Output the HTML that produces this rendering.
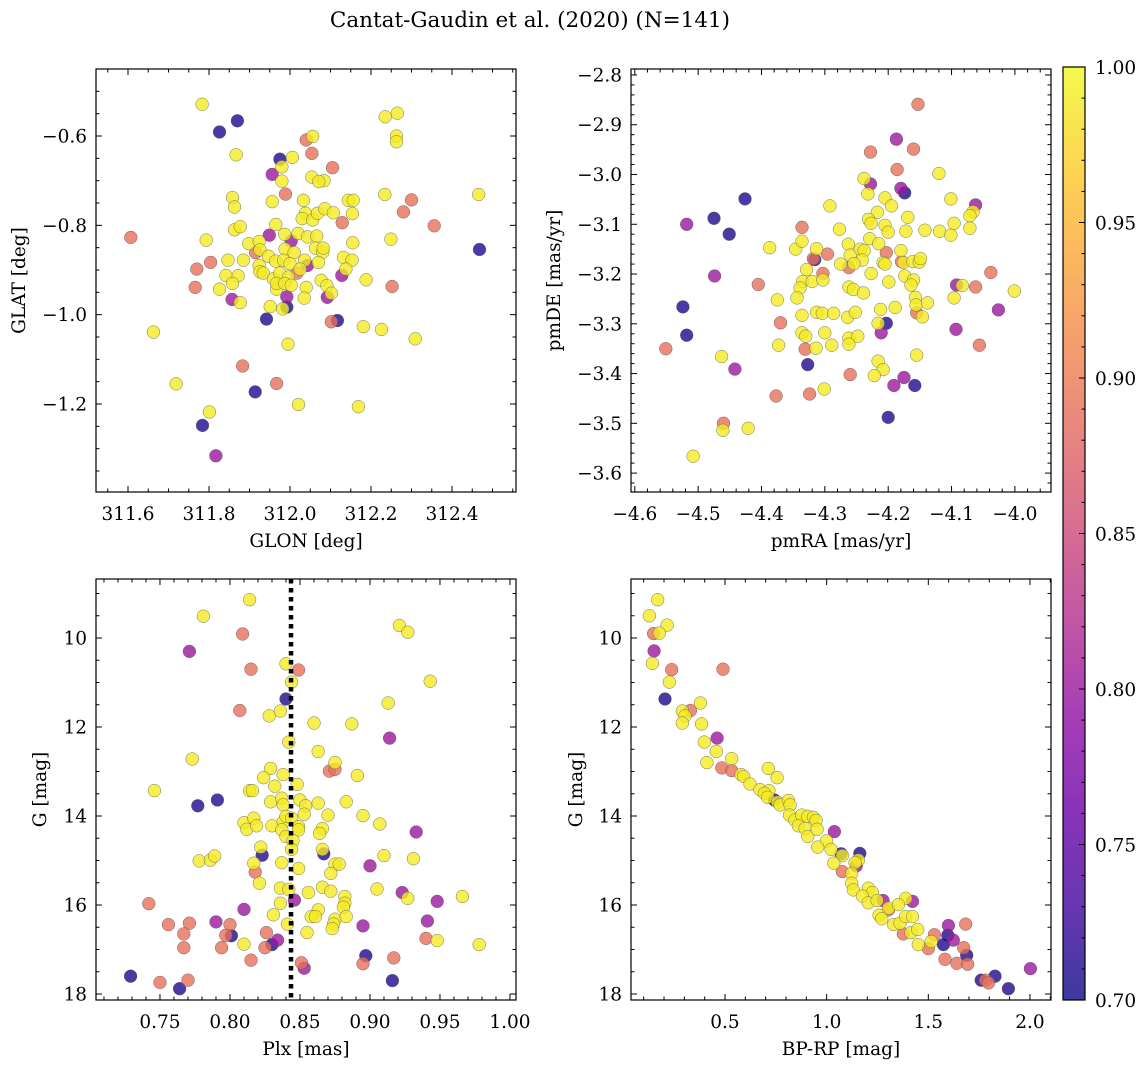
<!DOCTYPE html>
<html><head><meta charset="utf-8"><title>Cantat-Gaudin et al. (2020)</title>
<style>
html,body{margin:0;padding:0;background:#fff;}
svg{display:block;font-family:"DejaVu Serif","Liberation Serif",serif;}
</style></head>
<body>
<svg id="fig" width="1148" height="1067" viewBox="0 0 1148 1067" xmlns="http://www.w3.org/2000/svg">
<rect x="0" y="0" width="1148" height="1067" fill="#fff"/>
<text x="530" y="27" font-size="21.5" text-anchor="middle">Cantat-Gaudin et al. (2020) (N=141)</text>
</svg>
<script>
// ---------- Panel 1: GLON / GLAT ----------
const p1Lon=[311.783,311.870,311.826,312.235,312.265,312.263,312.263,312.040,312.056,312.054,311.867,311.975,312.006,311.980,311.956,311.980,312.105,312.054,312.084,312.071,311.858,311.863,311.956,311.989,312.033,312.234,312.300,312.466,312.144,312.156,312.280,312.038,312.030,312.056,312.068,312.086,312.107,312.154,312.129,312.356,311.863,311.877,311.965,311.607,311.793,311.949,311.987,312.003,312.020,312.043,312.066,312.249,312.155,312.468,311.898,311.924,311.926,311.915,311.947,311.988,312.010,312.063,312.081,312.082,311.847,311.885,311.804,311.770,311.924,311.926,311.965,311.984,312.000,312.036,312.043,312.070,312.132,312.153,312.138,312.128,311.842,311.872,311.858,311.934,311.959,311.975,311.996,312.017,312.025,311.766,311.826,311.967,311.967,311.987,312.003,312.040,312.077,312.091,312.188,312.252,311.857,311.877,311.992,312.035,312.092,312.102,311.951,311.992,311.982,311.942,312.102,312.117,312.181,312.226,312.309,311.663,311.995,311.883,311.719,311.967,311.914,312.021,312.169,311.801,311.784,311.817];
const p1Lat=[-0.529,-0.566,-0.591,-0.557,-0.549,-0.600,-0.613,-0.609,-0.601,-0.639,-0.642,-0.652,-0.648,-0.669,-0.686,-0.701,-0.671,-0.692,-0.700,-0.702,-0.738,-0.759,-0.747,-0.730,-0.744,-0.731,-0.743,-0.731,-0.744,-0.744,-0.770,-0.773,-0.785,-0.788,-0.773,-0.763,-0.772,-0.774,-0.794,-0.801,-0.810,-0.803,-0.798,-0.827,-0.833,-0.822,-0.820,-0.835,-0.818,-0.826,-0.824,-0.831,-0.839,-0.854,-0.841,-0.836,-0.855,-0.861,-0.869,-0.853,-0.861,-0.851,-0.860,-0.851,-0.878,-0.878,-0.883,-0.898,-0.890,-0.904,-0.880,-0.878,-0.886,-0.878,-0.890,-0.883,-0.872,-0.878,-0.898,-0.912,-0.912,-0.913,-0.930,-0.907,-0.920,-0.907,-0.916,-0.907,-0.898,-0.939,-0.943,-0.943,-0.930,-0.930,-0.934,-0.939,-0.923,-0.935,-0.922,-0.937,-0.966,-0.973,-0.960,-0.963,-0.961,-0.952,-0.982,-0.983,-0.987,-1.010,-1.016,-1.013,-1.027,-1.033,-1.054,-1.039,-1.066,-1.115,-1.155,-1.154,-1.173,-1.201,-1.206,-1.218,-1.248,-1.316];
const p1Prob=[.99,.71,.71,.99,.99,.99,.99,.89,.99,.89,.99,.71,.99,.99,.80,.99,.89,.99,.99,.99,.99,.99,.99,.89,.99,.99,.89,.99,.99,.99,.89,.99,.99,.99,.99,.99,.99,.99,.89,.89,.99,.99,.99,.89,.99,.80,.99,.80,.99,.99,.99,.99,.99,.71,.99,.99,.99,.89,.99,.99,.99,.99,.99,.99,.99,.99,.89,.89,.99,.99,.99,.99,.99,.99,.80,.99,.99,.99,.99,.80,.99,.99,.99,.99,.99,.99,.99,.89,.99,.89,.99,.99,.99,.99,.99,.99,.99,.99,.99,.89,.80,.99,.80,.99,.80,.99,.99,.71,.99,.71,.89,.71,.99,.99,.99,.99,.99,.89,.99,.89,.71,.99,.99,.99,.71,.80];
const p1XTicks=[311.6,311.8,312.0,312.2,312.4];
const p1YTicks=[-0.6,-0.8,-1.0,-1.2];

// ---------- Panel 2: pmRA / pmDE ----------
const p2Pmra=[-4.153,-4.187,-4.228,-4.160,-4.186,-4.120,-4.238,-4.228,-4.180,-4.174,-4.232,-4.426,-4.205,-4.101,-4.292,-4.195,-4.062,-4.066,-4.071,-4.475,-4.518,-4.217,-4.169,-4.231,-4.227,-4.205,-4.200,-4.172,-4.142,-4.119,-4.101,-4.096,-4.071,-4.336,-4.451,-4.277,-4.229,-4.215,-4.387,-4.346,-4.336,-4.313,-4.296,-4.263,-4.260,-4.244,-4.238,-4.241,-4.203,-4.180,-4.318,-4.316,-4.275,-4.262,-4.254,-4.208,-4.205,-4.179,-4.176,-4.161,-4.151,-4.149,-4.329,-4.303,-4.227,-4.174,-4.160,-4.164,-4.474,-4.405,-4.335,-4.320,-4.303,-4.339,-4.344,-4.262,-4.255,-4.239,-4.199,-4.092,-4.083,-4.062,-4.038,-4.001,-4.096,-4.026,-4.375,-4.524,-4.336,-4.313,-4.304,-4.286,-4.264,-4.252,-4.212,-4.189,-4.157,-4.156,-4.155,-4.138,-4.146,-4.370,-4.203,-4.216,-4.211,-4.093,-4.518,-4.551,-4.336,-4.330,-4.300,-4.262,-4.248,-4.262,-4.373,-4.331,-4.314,-4.289,-4.155,-4.463,-4.442,-4.327,-4.216,-4.208,-4.222,-4.260,-4.175,-4.191,-4.158,-4.377,-4.324,-4.301,-4.200,-4.460,-4.461,-4.421,-4.508,-4.056];
const p2Pmde=[-2.859,-2.929,-2.955,-2.949,-2.990,-2.998,-3.008,-3.019,-3.028,-3.037,-3.039,-3.049,-3.047,-3.049,-3.063,-3.063,-3.061,-3.075,-3.083,-3.088,-3.100,-3.076,-3.086,-3.090,-3.098,-3.102,-3.116,-3.114,-3.112,-3.114,-3.122,-3.098,-3.108,-3.106,-3.120,-3.110,-3.129,-3.139,-3.147,-3.150,-3.134,-3.149,-3.160,-3.140,-3.162,-3.150,-3.153,-3.172,-3.157,-3.153,-3.169,-3.171,-3.180,-3.187,-3.179,-3.177,-3.180,-3.175,-3.177,-3.175,-3.176,-3.169,-3.191,-3.199,-3.199,-3.204,-3.212,-3.222,-3.204,-3.221,-3.215,-3.215,-3.212,-3.228,-3.248,-3.226,-3.231,-3.238,-3.216,-3.222,-3.223,-3.226,-3.197,-3.234,-3.248,-3.272,-3.252,-3.266,-3.283,-3.277,-3.279,-3.279,-3.287,-3.277,-3.271,-3.267,-3.247,-3.262,-3.278,-3.258,-3.286,-3.298,-3.299,-3.299,-3.318,-3.311,-3.323,-3.350,-3.318,-3.325,-3.318,-3.329,-3.325,-3.341,-3.343,-3.351,-3.349,-3.343,-3.363,-3.366,-3.391,-3.382,-3.375,-3.392,-3.404,-3.402,-3.408,-3.424,-3.424,-3.445,-3.441,-3.431,-3.488,-3.500,-3.514,-3.510,-3.566,-3.343];
const p2Prob=[.89,.80,.89,.89,.89,.99,.99,.80,.80,.71,.99,.71,.99,.99,.99,.99,.80,.99,.99,.71,.80,.99,.99,.99,.99,.99,.99,.99,.99,.99,.99,.99,.99,.89,.71,.99,.99,.99,.99,.99,.99,.99,.89,.99,.99,.99,.99,.99,.89,.99,.89,.71,.99,.89,.99,.99,.99,.89,.99,.99,.99,.99,.99,.89,.99,.99,.99,.99,.80,.89,.99,.99,.99,.99,.99,.99,.99,.99,.99,.80,.99,.89,.89,.99,.99,.80,.99,.71,.99,.99,.99,.99,.99,.99,.99,.99,.99,.99,.89,.99,.99,.89,.71,.99,.80,.80,.71,.89,.99,.99,.99,.99,.99,.99,.99,.89,.99,.99,.99,.99,.80,.71,.99,.99,.99,.89,.80,.80,.71,.89,.89,.99,.71,.89,.99,.99,.99,.89];
const p2XTicks=[-4.6,-4.5,-4.4,-4.3,-4.2,-4.1,-4.0];
const p2YTicks=[-2.8,-2.9,-3.0,-3.1,-3.2,-3.3,-3.4,-3.5,-3.6];

// ---------- Panel 3: Plx / G ----------
const p3Plx=[0.814,0.781,0.921,0.927,0.809,0.771,0.840,0.815,0.849,0.844,0.943,0.840,0.807,0.828,0.836,0.913,0.860,0.887,0.914,0.842,0.863,0.773,0.871,0.875,0.875,0.829,0.824,0.838,0.848,0.891,0.746,0.814,0.816,0.832,0.777,0.791,0.829,0.837,0.838,0.850,0.854,0.863,0.883,0.853,0.870,0.895,0.810,0.817,0.812,0.819,0.830,0.838,0.840,0.844,0.837,0.840,0.849,0.849,0.866,0.864,0.907,0.933,0.822,0.823,0.845,0.844,0.867,0.866,0.778,0.786,0.789,0.817,0.818,0.837,0.849,0.875,0.878,0.872,0.900,0.910,0.931,0.821,0.836,0.842,0.856,0.866,0.872,0.905,0.923,0.927,0.846,0.882,0.882,0.881,0.966,0.948,0.742,0.810,0.836,0.831,0.863,0.858,0.861,0.841,0.875,0.874,0.873,0.883,0.855,0.756,0.771,0.790,0.800,0.767,0.797,0.801,0.826,0.810,0.767,0.794,0.825,0.830,0.834,0.948,0.940,0.941,0.895,0.978,0.897,0.895,0.917,0.815,0.851,0.853,0.729,0.750,0.770,0.764,0.916];
const p3G=[9.14,9.51,9.72,9.87,9.91,10.30,10.58,10.70,10.72,10.99,10.97,11.37,11.63,11.75,11.64,11.46,11.91,11.93,12.25,12.34,12.55,12.72,12.99,12.95,12.80,12.93,13.14,13.07,13.29,13.09,13.43,13.43,13.43,13.33,13.77,13.64,13.68,13.60,13.75,13.64,13.77,13.71,13.68,13.96,13.98,13.99,14.15,14.05,14.30,14.22,14.22,14.13,14.01,14.05,14.31,14.46,14.24,14.31,14.28,14.39,14.18,14.36,14.70,14.88,14.55,14.75,14.85,14.75,15.01,14.99,14.90,15.06,15.26,15.05,15.18,15.08,15.08,15.29,15.12,14.89,14.96,15.51,15.62,15.65,15.72,15.60,15.69,15.64,15.72,15.85,15.89,15.81,15.96,16.05,15.81,15.92,15.97,16.10,15.96,16.22,16.11,16.26,16.26,16.43,16.32,16.43,16.53,16.26,16.62,16.44,16.41,16.38,16.44,16.65,16.68,16.69,16.62,16.88,16.96,16.96,16.96,16.89,16.79,16.80,16.75,16.36,16.47,16.89,17.14,17.32,17.19,17.24,17.30,17.42,17.60,17.74,17.69,17.88,17.70];
const p3Prob=[.99,.99,.99,.99,.89,.80,.99,.89,.89,.99,.99,.71,.89,.99,.99,.99,.99,.99,.80,.99,.99,.99,.89,.89,.99,.99,.99,.99,.99,.99,.99,.99,.99,.99,.71,.71,.99,.99,.99,.99,.99,.99,.99,.99,.99,.99,.99,.99,.99,.99,.99,.99,.99,.99,.99,.99,.99,.99,.99,.99,.99,.80,.99,.71,.99,.99,.71,.99,.99,.99,.99,.99,.89,.99,.99,.99,.99,.99,.80,.99,.99,.99,.99,.99,.99,.99,.99,.99,.80,.99,.80,.99,.99,.99,.99,.80,.89,.80,.99,.99,.99,.99,.99,.99,.99,.99,.99,.99,.99,.89,.89,.80,.89,.89,.89,.71,.89,.99,.89,.89,.89,.71,.80,.99,.89,.80,.80,.99,.71,.89,.89,.89,.89,.80,.71,.89,.89,.71,.71];
const p3XTicks=[0.75,0.80,0.85,0.90,0.95,1.00];
const p3XLabels=["0.75","0.80","0.85","0.90","0.95","1.00"];
const gTicks=[10,12,14,16,18];
const meanPlx=0.8436;

// ---------- Panel 4: BP-RP / G ----------
const p4Bprp=[0.169,0.128,0.215,0.149,0.177,0.151,0.143,0.238,0.490,0.226,0.205,0.379,0.330,0.290,0.303,0.290,0.385,0.461,0.398,0.457,0.411,0.533,0.484,0.533,0.713,0.756,0.579,0.592,0.623,0.672,0.716,0.694,0.710,0.743,0.759,0.771,0.812,0.820,0.817,0.844,0.877,0.907,0.935,0.948,0.861,0.894,0.907,0.953,1.038,0.999,0.956,1.022,1.071,1.077,1.163,1.156,1.140,1.035,1.077,1.146,1.123,1.123,1.131,1.205,1.225,1.176,1.205,1.248,1.277,1.304,1.304,1.422,1.389,1.353,1.258,1.271,1.330,1.361,1.389,1.422,1.377,1.415,1.448,1.451,1.500,1.530,1.514,1.599,1.596,1.623,1.574,1.684,1.674,1.689,1.582,1.640,1.694,1.760,1.782,1.796,1.828,1.894,2.002];
const p4G=[9.14,9.50,9.71,9.90,9.89,10.29,10.57,10.71,10.70,10.99,11.37,11.46,11.63,11.64,11.75,11.91,11.93,12.25,12.34,12.55,12.80,12.71,12.92,12.98,12.93,13.14,13.07,13.11,13.28,13.41,13.43,13.49,13.58,13.64,13.69,13.75,13.65,13.75,13.98,14.09,13.98,14.01,14.03,14.10,14.22,14.28,14.46,14.30,14.35,14.56,14.70,14.75,14.85,14.89,14.84,14.99,15.05,15.06,15.25,15.12,15.29,15.51,15.66,15.62,15.72,15.80,15.95,15.90,15.90,16.07,16.11,15.92,15.85,15.99,16.23,16.31,16.44,16.41,16.26,16.26,16.65,16.62,16.55,16.89,16.98,16.67,16.82,16.46,16.68,16.79,16.89,16.43,16.96,17.13,17.22,17.31,17.33,17.69,17.69,17.75,17.60,17.88,17.43];
const p4Prob=[.99,.99,.99,.89,.99,.80,.99,.89,.89,.99,.71,.99,.89,.99,.99,.99,.99,.80,.99,.99,.99,.99,.89,.89,.99,.99,.99,.99,.99,.99,.99,.99,.99,.71,.99,.99,.99,.99,.99,.99,.99,.99,.99,.99,.99,.99,.99,.99,.80,.99,.99,.99,.71,.99,.71,.99,.99,.99,.89,.80,.99,.99,.99,.99,.99,.99,.99,.99,.80,.99,.89,.80,.99,.99,.99,.99,.99,.99,.99,.99,.89,.99,.99,.99,.89,.89,.99,.80,.71,.80,.71,.89,.89,.71,.89,.89,.89,.71,.89,.89,.71,.71,.80];
const p4XTicks=[0.5,1.0,1.5,2.0];

// ---------- Colorbar ----------
const cbTicks=[0.70,0.75,0.80,0.85,0.90,0.95,1.00];
const cbMin=0.70, cbMax=1.00;

const NS="http://www.w3.org/2000/svg";
const svg=document.getElementById('fig');
const TICK_FS=18.5, TITLE_FS=18.5;
function mk(tag,attrs,parent){const e=document.createElementNS(NS,tag);for(const k in attrs)e.setAttribute(k,attrs[k]);(parent||svg).appendChild(e);return e;}
const plasmaStops=["#0d0887","#41049d","#6a00a8","#8f0da4","#b12a90","#cc4778","#e16462","#f2844b","#fca636","#fcce25","#f0f921"];
function hex(c){return [parseInt(c.substr(1,2),16),parseInt(c.substr(3,2),16),parseInt(c.substr(5,2),16)];}
function plasma(t){t=Math.max(0,Math.min(1,t));const f=t*10,i=Math.min(9,Math.floor(f)),u=f-i;const a=hex(plasmaStops[i]),b=hex(plasmaStops[i+1]);return 'rgb('+a.map((v,k)=>Math.round(v+(b[k]-v)*u)).join(',')+')';}
function fmtNum(v,d){return (v<0?'\u2212':'')+Math.abs(v).toFixed(d);}

function makePanel(cfg){
  const g=mk('g',{});
  
  
  const {x0,x1,y0,y1,xmin,xmax,ymin,ymax}=cfg;
  const sx=v=>x0+(v-xmin)/(xmax-xmin)*(x1-x0);
  const sy=v=>cfg.invertY? y0+(v-ymin)/(ymax-ymin)*(y1-y0) : y1-(v-ymin)/(ymax-ymin)*(y1-y0);
  const clipId='clip-'+cfg.name;
  const cp=mk('clipPath',{id:clipId},g);mk('rect',{x:x0,y:y0,width:x1-x0,height:y1-y0},cp);
  const pts=mk('g',{'clip-path':'url(#'+clipId+')'},g);
  
  
  const idx=cfg.xs.map((_,i)=>i).sort((a,b)=>cfg.probs[a]-cfg.probs[b]);
  idx.forEach(i=>{
    const c=mk('circle',{cx:sx(cfg.xs[i]).toFixed(1),cy:sy(cfg.ys[i]).toFixed(1),r:6.4,fill:plasma((cfg.probs[i]-cbMin)/(cbMax-cbMin)),'fill-opacity':0.8,stroke:'#555','stroke-width':0.5,'stroke-opacity':0.8},pts);
    
    
  });
  if(cfg.vline!==undefined){
    const l=mk('line',{x1:sx(cfg.vline),x2:sx(cfg.vline),y1:y0,y2:y1,stroke:'#000','stroke-width':4.5,'stroke-dasharray':'4.5 4.5'},g);
    
    
  }
  const tk=mk('g',{stroke:'#000','stroke-width':1},g);
  
  
  const eps=1e-9;
  for(let v=Math.ceil(xmin/cfg.xMinor-eps)*cfg.xMinor; v<=xmax+eps; v+=cfg.xMinor){
    const X=sx(v); if(X<x0+0.5||X>x1-0.5)continue;
    const major=cfg.xTicks.some(t=>Math.abs(t-v)<cfg.xMinor/3);const L=major?6:3.5;
    mk('line',{x1:X,x2:X,y1:y1,y2:y1-L},tk);mk('line',{x1:X,x2:X,y1:y0,y2:y0+L},tk);
  }
  const lo=Math.min(ymin,ymax),hi=Math.max(ymin,ymax);
  for(let v=Math.ceil(lo/cfg.yMinor-eps)*cfg.yMinor; v<=hi+eps; v+=cfg.yMinor){
    const Y=sy(v); if(Y<y0+0.5||Y>y1-0.5)continue;
    const major=cfg.yTicks.some(t=>Math.abs(t-v)<cfg.yMinor/3);const L=major?6:3.5;
    mk('line',{x1:x0,x2:x0+L,y1:Y,y2:Y},tk);mk('line',{x1:x1,x2:x1-L,y1:Y,y2:Y},tk);
  }
  mk('rect',{x:x0,y:y0,width:x1-x0,height:y1-y0,fill:'none',stroke:'#000','stroke-width':1.2},g);
  cfg.xTicks.forEach((v,i)=>{const t=mk('text',{x:sx(v),y:y1+28,'font-size':TICK_FS,'text-anchor':'middle'},g);t.textContent=cfg.xLabels?cfg.xLabels[i]:fmtNum(v,cfg.xDec);
    });
  cfg.yTicks.forEach(v=>{const t=mk('text',{x:x0-9,y:sy(v)+6.5,'font-size':TICK_FS,'text-anchor':'end'},g);t.textContent=fmtNum(v,cfg.yDec);
    });
  const xl=mk('text',{x:(x0+x1)/2,y:y1+55,'font-size':TITLE_FS,'text-anchor':'middle'},g);xl.textContent=cfg.xTitle;
  
  const yl=mk('text',{x:0,y:0,'font-size':TITLE_FS,'text-anchor':'middle',transform:'translate('+cfg.yTitleX+','+((y0+y1)/2)+') rotate(-90)'},g);yl.textContent=cfg.yTitle;
  
}

makePanel({name:'glon-glat-panel',x0:96,x1:516,y0:69,y1:492,xmin:311.521,xmax:312.558,ymin:-1.397,ymax:-0.450,
  xs:p1Lon,ys:p1Lat,probs:p1Prob,xTicks:p1XTicks,yTicks:p1YTicks,xMinor:0.05,yMinor:0.05,xDec:1,yDec:1,
  xTitle:'GLON [deg]',yTitle:'GLAT [deg]',yTitleX:25});
makePanel({name:'proper-motion-panel',x0:631,x1:1051,y0:69,y1:492,xmin:-4.606,xmax:-3.943,ymin:-3.638,ymax:-2.788,
  xs:p2Pmra,ys:p2Pmde,probs:p2Prob,xTicks:p2XTicks,yTicks:p2YTicks,xMinor:0.02,yMinor:0.02,xDec:1,yDec:1,
  xTitle:'pmRA [mas/yr]',yTitle:'pmDE [mas/yr]',yTitleX:560});
makePanel({name:'parallax-panel',x0:96,x1:516,y0:579,y1:1000,xmin:0.7043,xmax:1.0043,ymin:8.674,ymax:18.135,invertY:true,
  xs:p3Plx,ys:p3G,probs:p3Prob,xTicks:p3XTicks,xLabels:p3XLabels,yTicks:gTicks,xMinor:0.01,yMinor:0.5,xDec:2,yDec:0,
  xTitle:'Plx [mas]',yTitle:'G [mag]',yTitleX:46,vline:meanPlx});
makePanel({name:'cmd-panel',x0:631,x1:1051,y0:579,y1:1000,xmin:0.0376,xmax:2.1035,ymin:8.674,ymax:18.135,invertY:true,
  xs:p4Bprp,ys:p4G,probs:p4Prob,xTicks:p4XTicks,yTicks:gTicks,xMinor:0.1,yMinor:0.5,xDec:1,yDec:0,
  xTitle:'BP-RP [mag]',yTitle:'G [mag]',yTitleX:582});

(function(){
  const cx0=1063,cx1=1085,cy0=67,cy1=1000;
  const g=mk('g',{});
  
  
  const defs=mk('defs',{},g);
  const lg=mk('linearGradient',{id:'cbgrad',x1:0,y1:1,x2:0,y2:0},defs);
  plasmaStops.forEach((c,i)=>mk('stop',{offset:(i/10),'stop-color':c},lg));
  mk('rect',{x:cx0,y:cy0,width:cx1-cx0,height:cy1-cy0,fill:'url(#cbgrad)','fill-opacity':0.8},g);
  const sy=v=>cy1-(v-cbMin)/(cbMax-cbMin)*(cy1-cy0);
  for(let k=0;k<=30;k++){const v=cbMin+k*0.01;const Y=sy(v);const major=k%5===0;
    if(k>0&&k<30)mk('line',{x1:cx1,x2:cx1-(major?6:3.5),y1:Y,y2:Y,stroke:'#000','stroke-width':1},g);}
  mk('rect',{x:cx0,y:cy0,width:cx1-cx0,height:cy1-cy0,fill:'none',stroke:'#000','stroke-width':1.2},g);
  cbTicks.forEach(v=>{const t=mk('text',{x:cx1+10,y:sy(v)+7,'font-size':TICK_FS},g);t.textContent=v.toFixed(2);
    });
})();
</script>
</body></html>
